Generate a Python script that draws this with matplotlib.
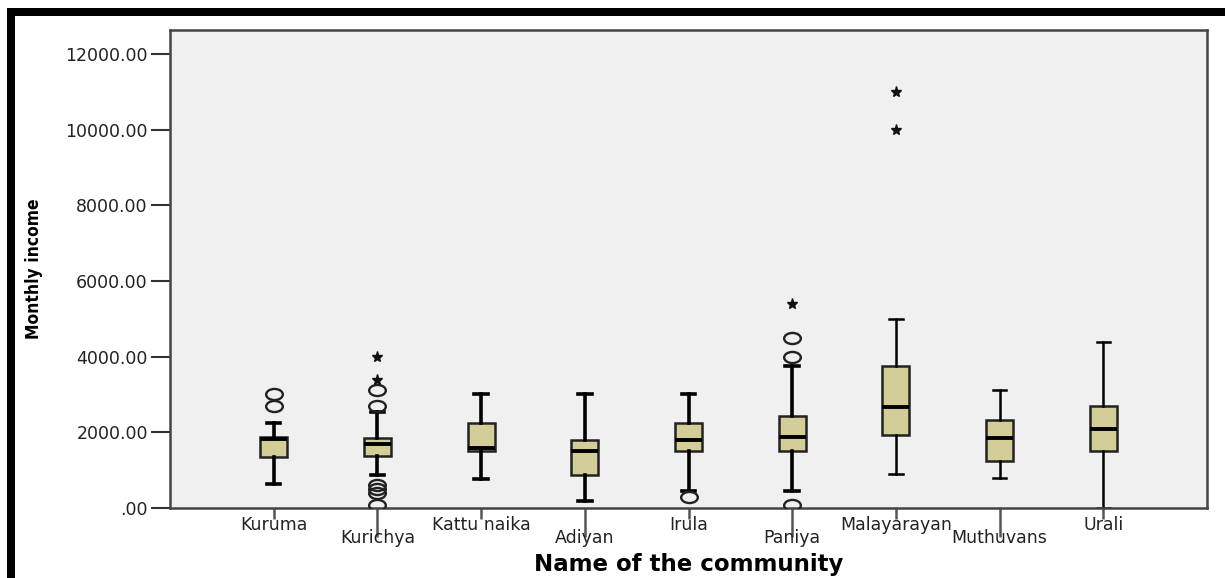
import numpy as np
import matplotlib
matplotlib.use("Agg")
import matplotlib.pyplot as plt
from matplotlib.path import Path
from matplotlib.transforms import Affine2D
from matplotlib.patches import Rectangle

# monthly income by community
communities = ['Kuruma', 'Kurichya', 'Kattu naika', 'Adiyan', 'Irula',
               'Paniya', 'Malayarayan', 'Muthuvans', 'Urali']
q1 = [1340, 1375, 1500, 880, 1500, 1500, 1940, 1250, 1500]
median = [1825, 1700, 1595, 1500, 1805, 1885, 2680, 1840, 2100]
q3 = [1870, 1860, 2250, 1800, 2250, 2425, 3745, 2335, 2700]
whisker_low = [625, 870, 760, 175, 440, 440, 905, 800, 0]
whisker_high = [2250, 2540, 3000, 3000, 3000, 3760, 5000, 3120, 4380]
outliers = [[2700, 3000], [2700, 3120, 600, 490, 390, 80], [], [], [300],
            [4000, 4500, 70], [], [], []]
extremes = [[], [3380, 4000], [], [], [], [5400], [10000, 11000], [], []]
yticks = [0, 2000, 4000, 6000, 8000, 10000, 12000]

box_color = '#d3ce97'
bg_color = '#f0f0f0'

fig = plt.figure(figsize=(12.25, 5.78), dpi=100)
ax = fig.add_axes([170/1225, 70/578, 1037/1225, 478/578])
ax.set_facecolor(bg_color)

pos = np.arange(1, len(communities) + 1)
stats = []
for i, name in enumerate(communities):
    stats.append(dict(label=name, q1=q1[i], med=median[i], q3=q3[i],
                      whislo=whisker_low[i], whishi=whisker_high[i], fliers=[]))

bp = ax.bxp(stats, positions=pos, widths=0.26, capwidths=0.13, patch_artist=True,
            showfliers=False,
            boxprops=dict(facecolor=box_color, edgecolor='#222222', linewidth=1.8),
            medianprops=dict(color='black', linewidth=2.8),
            whiskerprops=dict(color='black'),
            capprops=dict(color='black'))
# the last three groups were drawn with thinner whiskers in the original
for k, ln in enumerate(bp['whiskers']):
    ln.set_linewidth(2.6 if k // 2 < 6 else 1.8)
for k, ln in enumerate(bp['caps']):
    ln.set_linewidth(2.6 if k // 2 < 6 else 1.8)

# elliptical open circles (SPSS style outliers)
ell = Path.unit_circle().transformed(Affine2D().scale(1.5, 1.0))
for p, vals in zip(pos, outliers):
    if vals:
        ax.plot([p] * len(vals), vals, linestyle='none', marker=ell,
                markersize=12, markerfacecolor='none', markeredgecolor='#222222',
                markeredgewidth=1.7, zorder=4)
for p, vals in zip(pos, extremes):
    if vals:
        ax.plot([p] * len(vals), vals, linestyle='none', marker='*',
                markersize=8, color='#111111', zorder=4)

ax.set_xlim(0, 10)
ax.set_ylim(0, 12630)

ax.set_yticks(yticks)
ax.set_yticklabels(['.00' if v == 0 else f'{v:.2f}' for v in yticks],
                   fontsize=12.5, color='#222222', family='DejaVu Sans')
ax.tick_params(axis='y', length=14, width=1.5, color='#333333', pad=2)

# staggered category labels: long ticks on every second one
ax.set_xticks(pos[::2])
ax.set_xticklabels(communities[::2], fontsize=12.5, color='#222222')
ax.set_xticks(pos[1::2], minor=True)
ax.set_xticklabels(communities[1::2], minor=True, fontsize=12.5, color='#222222')
ax.tick_params(axis='x', which='major', length=8, width=1.8, color='#555555', pad=-2)
ax.tick_params(axis='x', which='minor', length=21, width=1.8, color='#555555', pad=-6)

for s in ax.spines.values():
    s.set_color('#444444')
    s.set_linewidth(1.8)

ax.set_ylabel('Monthly income', fontsize=12.5, fontweight='bold',
              family='DejaVu Sans', fontstretch='condensed')
ax.yaxis.set_label_coords(-0.122, 0.5)
ax.set_xlabel('Name of the community', fontsize=16.5, fontweight='bold',
              family='DejaVu Sans')
ax.xaxis.label.set_va('center')
ax.xaxis.set_label_coords(0.5, -0.119)

# thick black frame at top and left of the original screenshot
fig.add_artist(Rectangle((7/1225, 562/578), 1 - 7/1225, 8/578, transform=fig.transFigure,
                         facecolor='black', edgecolor='none'))
fig.add_artist(Rectangle((7/1225, 0), 8/1225, 570/578, transform=fig.transFigure,
                         facecolor='black', edgecolor='none'))

fig.savefig('out.png', dpi=100, facecolor='white')
